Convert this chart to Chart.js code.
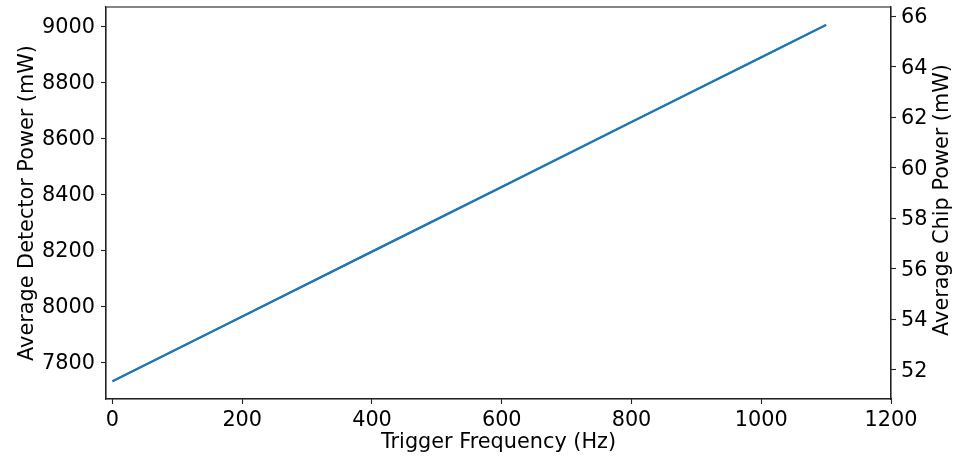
<!DOCTYPE html>
<html>
<head>
<meta charset="utf-8">
<script src="https://cdn.jsdelivr.net/npm/chart.js@4/dist/chart.umd.min.js"></script>
<style>
  html, body { margin: 0; padding: 0; background: #fff; }
  #wrap { width: 957px; height: 456px; }
</style>
</head>
<body>
<div id="wrap"><canvas id="c" width="957" height="456"></canvas></div>
<script>
// ---- data ----
const frequencyHz   = [0, 200, 400, 600, 800, 1000, 1100];
const detectorPower = [7732, 7963, 8195, 8426, 8658, 8889, 9005];
const chipPower     = [51.56, 54.12, 56.69, 59.25, 61.82, 64.38, 65.66];
const xTicks  = [0, 200, 400, 600, 800, 1000, 1200];
const yTicks  = [7800, 8000, 8200, 8400, 8600, 8800, 9000];
const y2Ticks = [52, 54, 56, 58, 60, 62, 64, 66];
const xTitle  = 'Trigger Frequency (Hz)';
const yTitle  = 'Average Detector Power (mW)';
const y2Title = 'Average Chip Power (mW)';

const FONT = { family: 'DejaVu Sans', size: 20.8 };
const LINE = '#1f77b4';
const AXC = '#222222';

const toXY = (xs, ys) => xs.map((x, i) => ({ x: x, y: ys[i] }));
const setTicks = arr => s => { s.ticks = arr.map(v => ({ value: v })); };

const frame = {
  id: 'frame',
  afterDatasetsDraw(chart) {
    const a = chart.chartArea, ctx = chart.ctx;
    ctx.save();
    ctx.strokeStyle = AXC;
    ctx.lineWidth = 1.1;
    ctx.strokeRect(a.left, a.top, a.right - a.left, a.bottom - a.top);
    ctx.restore();
  },
  afterDraw(chart) {
    // right axis title, reading bottom-to-top as in the reference
    const a = chart.chartArea, ctx = chart.ctx;
    ctx.save();
    ctx.translate(948, (a.top + a.bottom) / 2 - 3);
    ctx.rotate(-Math.PI / 2);
    ctx.font = FONT.size + 'px "' + FONT.family + '"';
    ctx.fillStyle = '#000';
    ctx.textAlign = 'center';
    ctx.textBaseline = 'alphabetic';
    ctx.fillText(y2Title, 0, 0);
    ctx.restore();
  }
};

new Chart(document.getElementById('c'), {
  type: 'line',
  data: {
    datasets: [
      { data: toXY(frequencyHz, detectorPower), yAxisID: 'y', borderColor: LINE,
        borderWidth: 2.1, pointRadius: 0, tension: 0, fill: false },
      { data: toXY(frequencyHz, chipPower), yAxisID: 'y2', borderColor: LINE,
        borderWidth: 2.1, pointRadius: 0, tension: 0, fill: false }
    ]
  },
  options: {
    responsive: false,
    animation: false,
    layout: { padding: { top: 7, left: 0, right: 0, bottom: 0 } },
    plugins: { legend: { display: false }, tooltip: { enabled: false } },
    scales: {
      x: {
        type: 'linear', min: -10, max: 1200,
        afterBuildTicks: setTicks(xTicks),
        afterFit: s => { s.height = 57; s.paddingLeft = 0; s.paddingRight = 0; },
        grid: { drawOnChartArea: false, tickLength: 5, tickColor: AXC, tickWidth: 1.1 },
        border: { color: AXC, width: 1.1 },
        ticks: { font: FONT, color: '#000', padding: 4, maxRotation: 0, callback: v => String(v) },
        title: { display: true, text: xTitle, font: FONT, color: '#000', padding: { top: 0, bottom: 0.7 } }
      },
      y: {
        type: 'linear', position: 'left', min: 7669, max: 9069,
        afterBuildTicks: setTicks(yTicks),
        afterFit: s => { s.width = 106; s.paddingTop = 0; s.paddingBottom = 0; },
        grid: { drawOnChartArea: false, tickLength: 5, tickColor: AXC, tickWidth: 1.1 },
        border: { color: AXC, width: 1.1 },
        ticks: { font: FONT, color: '#000', padding: 6, labelOffset: 1.5, callback: v => String(v) },
        title: { display: true, text: yTitle, font: FONT, color: '#000', padding: { top: 15, bottom: 0 } }
      },
      y2: {
        type: 'linear', position: 'right', min: 50.85, max: 66.37,
        afterBuildTicks: setTicks(y2Ticks),
        afterFit: s => { s.width = 66; s.paddingTop = 0; s.paddingBottom = 0; },
        grid: { drawOnChartArea: false, tickLength: 5, tickColor: AXC, tickWidth: 1.1 },
        border: { color: AXC, width: 1.1 },
        ticks: { font: FONT, color: '#000', padding: 5, labelOffset: 1.5, callback: v => String(v) },
        title: { display: false }
      }
    }
  },
  plugins: [frame]
});
</script>
</body>
</html>
